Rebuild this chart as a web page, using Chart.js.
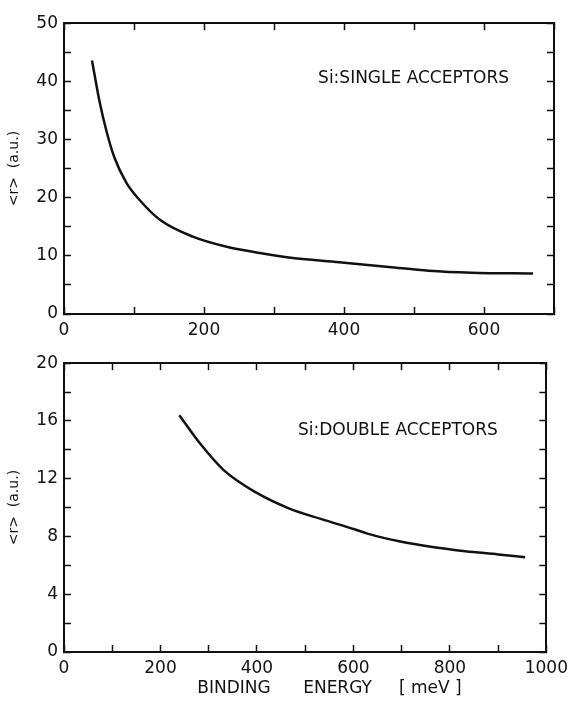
<!DOCTYPE html>
<html>
<head>
<meta charset="utf-8">
<script src="https://cdn.jsdelivr.net/npm/chart.js@4/dist/chart.umd.min.js"></script>
<style>
  html, body { margin: 0; padding: 0; background: #fff; }
  #wrap { position: relative; width: 581px; height: 704px; }
  canvas { position: absolute; left: 0; }
</style>
</head>
<body>
<div id="wrap">
  <canvas id="top" width="581" height="340" style="top:0"></canvas>
  <canvas id="bottom" width="581" height="364" style="top:340px"></canvas>
</div>
<script>
// Si single acceptors: binding energy (meV) vs <r> (a.u.)
const singleEnergy = [40, 51, 61, 72, 89, 108, 137, 184, 231, 279, 321, 393, 464, 521, 582, 670];
const singleRadius = [43.6, 36.4, 31.3, 26.9, 22.6, 19.6, 16.2, 13.3, 11.6, 10.5, 9.7, 8.9, 8.1, 7.45, 7.1, 6.95];

// Si double acceptors
const doubleEnergy = [239, 283, 331, 398, 466, 534, 602, 629, 697, 764, 832, 900, 956];
const doubleRadius = [16.4, 14.4, 12.6, 11.05, 9.95, 9.2, 8.5, 8.2, 7.65, 7.27, 6.98, 6.76, 6.56];

const topLabel = 'Si:SINGLE ACCEPTORS';
const bottomLabel = 'Si:DOUBLE ACCEPTORS';
const yTitle = '<r>  (a.u.)';
const xTitle = '         BINDING      ENERGY     [ meV ]';

const FONT = 'DejaVu Sans';
const ink = '#111';

function toPoints(xs, ys) {
  return xs.map((x, i) => ({ x: x, y: ys[i] }));
}

// inward tick marks on all four sides
function axis(pos, min, max, step, labelEvery, fit) {
  const horiz = pos === 'top' || pos === 'bottom';
  const main = pos === 'bottom' || pos === 'left';
  return {
    type: 'linear',
    position: pos,
    min: min, max: max,
    border: { display: true, color: ink, width: 2 },
    grid: { drawOnChartArea: false, drawTicks: true, tickLength: -7, tickWidth: 1.5, tickColor: ink },
    ticks: {
      display: main,
      stepSize: step,
      color: ink,
      padding: 13,
      font: { family: FONT, size: 17 },
      maxRotation: 0,
      autoSkip: false,
      callback: v => (v % labelEvery === 0 ? String(v) : '')
    },
    afterFit: s => { if (horiz) s.height = fit; else s.width = fit; }
  };
}

const textPlugin = {
  id: 'note',
  afterDraw(chart, args, opts) {
    const c = chart.ctx;
    const x = chart.scales.x.getPixelForValue(opts.x);
    const y = chart.scales.y.getPixelForValue(opts.y);
    c.save();
    c.fillStyle = ink;
    c.font = '17px ' + FONT;
    c.textBaseline = 'middle';
    c.fillText(opts.text, x, y);
    c.restore();
  }
};

function makeChart(id, pts, xMax, xStep, xLab, yMax, yStep, yLab, pad, xFit, note, withXTitle) {
  const xs = axis('bottom', 0, xMax, xStep, xLab, xFit);
  if (withXTitle) {
    xs.title = { display: true, text: xTitle, color: ink, font: { family: FONT, size: 17 }, padding: { top: 0, bottom: 5 } };
  }
  const ys = axis('left', 0, yMax, yStep, yLab, 64);
  ys.title = { display: true, text: yTitle, color: ink, font: { family: FONT, size: 14 }, padding: { top: 6, bottom: 0 } };

  return new Chart(document.getElementById(id), {
    type: 'scatter',
    data: {
      datasets: [{
        data: pts,
        showLine: true,
        borderColor: ink,
        borderWidth: 2.5,
        pointRadius: 0,
        cubicInterpolationMode: 'monotone',
        fill: false
      }]
    },
    options: {
      responsive: false,
      animation: false,
      layout: { padding: pad },
      plugins: { legend: { display: false }, tooltip: { enabled: false }, note: note },
      scales: {
        x: xs,
        y: ys,
        x2: axis('top', 0, xMax, xStep, xLab, 0),
        y2: axis('right', 0, yMax, yStep, yLab, 0)
      }
    },
    plugins: [textPlugin]
  });
}

makeChart('top', toPoints(singleEnergy, singleRadius), 700, 100, 200, 50, 5, 10,
  { top: 13, right: 27, left: 0, bottom: 0 }, 26,
  { text: topLabel, x: 363, y: 40.5 }, false);

makeChart('bottom', toPoints(doubleEnergy, doubleRadius), 1000, 100, 200, 20, 2, 4,
  { top: 10, right: 25, left: 0, bottom: 0 }, 52,
  { text: bottomLabel, x: 485, y: 15.3 }, true);
</script>
</body>
</html>
